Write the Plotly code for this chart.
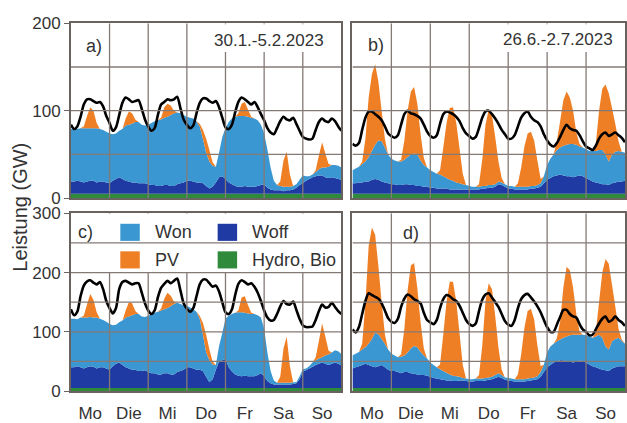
import plotly.graph_objects as go

DAY_LABELS = ["Mo", "Die", "Mi", "Do", "Fr", "Sa", "So"]
HOURS = list(range(0, 169, 2))  # 2-hour steps over one week
Y_TICKS_TOP = [0, 100, 200]
Y_TICKS_BOTTOM = [0, 100, 200, 300]

# ---------------- Panel a: 30.1.-5.2.2023 ----------------
HYDRO_A = [5, 5, 5, 5, 5, 5, 5, 5, 5, 5, 5, 5,
           5, 5, 5, 5, 5, 5, 5, 5, 5, 5, 5, 5,
           5, 5, 5, 5, 5, 5, 5, 5, 5, 5, 5, 5,
           5, 5, 5, 5, 5, 5, 5, 5, 5, 5, 5, 5,
           5, 5, 5, 5, 5, 5, 5, 5, 5, 5, 5, 5,
           5, 5, 5, 5, 5, 5, 5, 5, 5, 5, 5, 5,
           5, 5, 5, 5, 5, 5, 5, 5, 5, 5, 5, 5, 5]
WOFF_A = [14, 14, 15, 14, 13, 14, 15, 15, 13, 14, 14, 13,
          12, 15, 17, 19, 17, 15, 14, 13, 13, 12, 12, 12,
          11, 10, 10, 9, 9, 10, 10, 9, 9, 11, 12, 13,
          15, 15, 14, 13, 13, 12, 9, 6, 8, 13, 19, 20,
          17, 13, 11, 9, 8, 8, 9, 8, 8, 8, 9, 10,
          11, 7, 5, 4, 4, 4, 3, 4, 4, 5, 7, 10,
          12, 15, 17, 19, 20, 21, 21, 19, 18, 19, 18, 17, 16]
WON_A = [60, 60, 59, 61, 62, 61, 60, 60, 62, 60, 59, 58,
         57, 53, 52, 53, 57, 63, 65, 67, 69, 70, 67, 66,
         68, 71, 73, 75, 76, 77, 78, 81, 83, 82, 80, 77,
         73, 72, 72, 70, 64, 51, 38, 31, 24, 18, 28, 45,
         58, 69, 75, 79, 81, 81, 80, 80, 79, 78, 75, 69,
         58, 44, 25, 11, 6, 5, 5, 4, 4, 4, 4, 6,
         9, 5, 3, 3, 5, 7, 9, 11, 13, 14, 15, 15, 14]
PV_A = [0, 0, 0, 0, 2, 14, 24, 20, 6, 0, 0, 0,
        0, 0, 0, 0, 0, 8, 15, 12, 3, 0, 0, 0,
        0, 0, 0, 0, 2, 12, 15, 11, 3, 0, 0, 0,
        0, 0, 0, 0, 3, 10, 16, 13, 4, 0, 0, 0,
        0, 0, 0, 0, 3, 14, 16, 8, 1, 0, 0, 0,
        0, 0, 0, 0, 0, 5, 30, 40, 14, 0, 0, 0,
        0, 0, 0, 0, 2, 16, 29, 16, 3, 0, 0, 0, 0]
LOAD_A = [84, 79, 82, 93, 107, 113, 113, 111, 109, 110, 105, 94,
          86, 77, 81, 95, 109, 115, 113, 110, 111, 112, 102, 90,
          82, 77, 80, 95, 107, 110, 113, 112, 113, 116, 103, 90,
          84, 80, 83, 97, 109, 114, 114, 111, 109, 111, 104, 92,
          81, 79, 84, 98, 110, 115, 113, 110, 107, 110, 104, 96,
          89, 80, 75, 73, 80, 88, 93, 90, 89, 92, 85, 77,
          70, 68, 67, 68, 78, 87, 91, 88, 87, 91, 88, 82, 77]

# ---------------- Panel b: 26.6.-2.7.2023 ----------------
HYDRO_B = [5, 5, 5, 5, 5, 5, 5, 5, 5, 5, 5, 5,
           5, 5, 5, 5, 5, 5, 5, 5, 5, 5, 5, 5,
           5, 5, 5, 5, 5, 5, 5, 5, 5, 5, 5, 5,
           5, 5, 5, 5, 5, 5, 5, 5, 5, 5, 5, 5,
           5, 5, 5, 5, 5, 5, 5, 5, 5, 5, 5, 5,
           5, 5, 5, 5, 5, 5, 5, 5, 5, 5, 5, 5,
           5, 5, 5, 5, 5, 5, 5, 5, 5, 5, 5, 5, 5]
WOFF_B = [12, 12, 13, 13, 14, 14, 16, 17, 16, 14, 13, 12,
          11, 11, 10, 10, 11, 11, 10, 10, 9, 9, 8, 8,
          7, 7, 6, 6, 6, 6, 5, 5, 5, 5, 5, 5,
          5, 5, 5, 5, 6, 6, 7, 7, 8, 11, 10, 8,
          6, 6, 5, 5, 5, 5, 5, 6, 6, 7, 8, 12,
          16, 18, 20, 21, 22, 21, 20, 20, 19, 20, 21, 20,
          18, 16, 14, 13, 12, 11, 11, 10, 12, 13, 14, 14, 15]
WON_B = [15, 17, 18, 21, 23, 28, 33, 39, 45, 46, 40, 33,
         29, 27, 27, 27, 28, 31, 35, 36, 36, 29, 25, 22,
         20, 18, 17, 16, 14, 12, 11, 10, 8, 7, 6, 5,
         4, 3, 3, 3, 3, 3, 3, 3, 3, 3, 3, 3,
         3, 3, 3, 3, 3, 3, 3, 3, 3, 3, 4, 8,
         17, 22, 25, 29, 31, 34, 36, 37, 38, 36, 33, 33,
         33, 33, 35, 36, 38, 39, 34, 27, 33, 35, 35, 34, 32]
PV_B = [0, 0, 0, 3, 26, 68, 88, 92, 67, 35, 10, 0,
        0, 0, 0, 2, 22, 53, 72, 76, 58, 30, 8, 0,
        0, 0, 0, 5, 33, 63, 82, 84, 68, 40, 12, 0,
        0, 0, 0, 3, 30, 70, 86, 80, 54, 23, 5, 0,
        0, 0, 0, 4, 22, 46, 61, 62, 52, 28, 5, 0,
        0, 0, 0, 10, 30, 52, 61, 53, 38, 14, 3, 0,
        0, 0, 0, 8, 45, 70, 80, 78, 53, 32, 11, 0, 0]
LOAD_B = [62, 60, 63, 78, 92, 99, 99, 96, 93, 89, 82, 74,
          71, 69, 72, 84, 96, 100, 97, 96, 94, 91, 84, 76,
          71, 69, 72, 85, 96, 99, 98, 96, 93, 88, 80, 74,
          71, 68, 70, 80, 92, 99, 100, 96, 91, 85, 78, 73,
          68, 68, 72, 82, 92, 97, 99, 93, 89, 87, 82, 73,
          66, 61, 59, 63, 70, 78, 84, 80, 78, 77, 72, 65,
          59, 57, 55, 60, 68, 73, 75, 71, 73, 75, 72, 69, 64]

# ---------------- Panel c: winter week, scenario ----------------
HYDRO_C = [5, 5, 5, 5, 5, 5, 5, 5, 5, 5, 5, 5,
           5, 5, 5, 5, 5, 5, 5, 5, 5, 5, 5, 5,
           5, 5, 5, 5, 5, 5, 5, 5, 5, 5, 5, 5,
           5, 5, 5, 5, 5, 5, 5, 5, 5, 5, 5, 5,
           5, 5, 5, 5, 5, 5, 5, 5, 5, 5, 5, 5,
           5, 5, 5, 5, 5, 5, 5, 5, 5, 5, 5, 5,
           5, 5, 5, 5, 5, 5, 5, 5, 5, 5, 5, 5, 5]
WOFF_C = [35, 35, 37, 35, 33, 35, 37, 36, 33, 35, 35, 33,
          31, 37, 41, 43, 39, 35, 33, 31, 31, 29, 29, 30,
          27, 25, 25, 23, 23, 25, 25, 23, 23, 27, 29, 31,
          35, 35, 33, 31, 31, 29, 19, 10, 15, 31, 45, 47,
          49, 35, 28, 23, 21, 20, 21, 20, 20, 20, 22, 25,
          20, 12, 8, 6, 6, 6, 5, 6, 6, 7, 8, 15,
          28, 30, 33, 36, 39, 41, 43, 41, 39, 41, 43, 41, 38]
WON_C = [82, 82, 79, 84, 86, 84, 83, 83, 86, 82, 80, 79,
         77, 69, 66, 68, 75, 84, 88, 92, 94, 96, 92, 90,
         95, 100, 102, 106, 108, 108, 110, 115, 119, 117, 113, 109,
         104, 101, 100, 98, 86, 61, 41, 37, 25, 8, 26, 46,
         68, 87, 97, 104, 107, 108, 106, 106, 105, 105, 101, 94,
         80, 48, 21, 7, 3, 3, 4, 3, 3, 3, 2, 5,
         4, 3, 4, 7, 8, 9, 9, 14, 18, 19, 21, 21, 19]
PV_C = [0, 0, 0, 0, 3, 22, 39, 30, 9, 0, 0, 0,
        0, 0, 0, 0, 0, 12, 24, 20, 5, 0, 0, 0,
        0, 0, 0, 0, 3, 18, 26, 18, 4, 0, 0, 0,
        0, 0, 0, 0, 5, 20, 30, 18, 5, 0, 0, 0,
        0, 0, 0, 0, 3, 25, 28, 14, 2, 0, 0, 0,
        0, 0, 0, 0, 0, 10, 58, 78, 28, 0, 0, 0,
        0, 0, 0, 0, 5, 30, 57, 32, 6, 0, 0, 0, 0]
LOAD_C = [138, 128, 134, 160, 178, 185, 187, 183, 180, 184, 172, 152,
          140, 131, 140, 172, 184, 186, 183, 180, 182, 182, 166, 148,
          136, 130, 136, 158, 174, 181, 186, 182, 186, 190, 170, 148,
          139, 134, 140, 160, 180, 188, 188, 182, 176, 178, 168, 150,
          133, 130, 138, 162, 181, 187, 184, 180, 182, 176, 166, 152,
          136, 124, 119, 120, 130, 143, 152, 147, 146, 151, 137, 122,
          111, 108, 108, 109, 120, 135, 146, 141, 142, 149, 142, 135, 130]

# ---------------- Panel d: summer week, scenario ----------------
HYDRO_D = [5, 5, 5, 5, 5, 5, 5, 5, 5, 5, 5, 5,
           5, 5, 5, 5, 5, 5, 5, 5, 5, 5, 5, 5,
           5, 5, 5, 5, 5, 5, 5, 5, 5, 5, 5, 5,
           5, 5, 5, 5, 5, 5, 5, 5, 5, 5, 5, 5,
           5, 5, 5, 5, 5, 5, 5, 5, 5, 5, 5, 5,
           5, 5, 5, 5, 5, 5, 5, 5, 5, 5, 5, 5,
           5, 5, 5, 5, 5, 5, 5, 5, 5, 5, 5, 5, 5]
WOFF_D = [33, 35, 37, 39, 41, 39, 37, 35, 37, 39, 35, 31,
          29, 29, 27, 25, 27, 27, 25, 24, 23, 22, 22, 21,
          19, 17, 16, 15, 14, 13, 13, 12, 12, 13, 13, 12,
          11, 11, 12, 12, 12, 13, 14, 15, 17, 19, 17, 14,
          13, 12, 11, 11, 11, 11, 12, 13, 14, 15, 19, 27,
          35, 39, 43, 45, 47, 47, 45, 45, 43, 45, 47, 45,
          43, 40, 37, 35, 33, 31, 30, 29, 33, 35, 37, 37, 37]
WON_D = [22, 23, 24, 26, 28, 36, 46, 59, 54, 44, 40, 34,
         29, 26, 25, 28, 28, 33, 42, 47, 46, 39, 33, 29,
         24, 22, 19, 17, 15, 13, 10, 9, 8, 6, 4, 4,
         4, 4, 4, 4, 4, 4, 4, 4, 5, 6, 5, 4,
         4, 4, 4, 4, 4, 4, 4, 4, 4, 5, 8, 13,
         25, 31, 32, 34, 35, 38, 42, 44, 47, 45, 43, 45,
         46, 47, 48, 52, 57, 54, 40, 36, 46, 48, 48, 43, 38]
PV_D = [0, 0, 0, 10, 75, 165, 188, 165, 115, 62, 16, 0,
        0, 0, 0, 4, 45, 105, 140, 140, 100, 50, 12, 0,
        0, 0, 0, 8, 62, 120, 157, 158, 126, 74, 22, 0,
        0, 0, 0, 6, 55, 130, 159, 148, 100, 43, 9, 0,
        0, 0, 0, 8, 42, 87, 114, 117, 98, 52, 10, 0,
        0, 0, 0, 5, 30, 85, 118, 110, 80, 35, 5, 0,
        0, 0, 0, 8, 55, 110, 148, 145, 95, 55, 15, 2, 0]
LOAD_D = [104, 99, 108, 130, 152, 165, 162, 159, 156, 148, 136, 123,
          117, 115, 122, 142, 156, 163, 160, 155, 152, 148, 132, 120,
          116, 113, 120, 140, 155, 162, 160, 155, 152, 144, 132, 120,
          113, 110, 114, 135, 154, 163, 165, 158, 150, 142, 130, 118,
          112, 110, 120, 140, 155, 162, 164, 158, 151, 143, 133, 120,
          108, 100, 100, 112, 125, 137, 137, 130, 126, 124, 113, 104,
          100, 94, 95, 104, 114, 122, 126, 117, 120, 126, 120, 116, 110]

SERIES_NAMES = ["Hydro, Bio", "Woff", "Won", "PV"]
COLORS = {"Hydro, Bio": "#2f8b3b", "Woff": "#1f3aa2", "Won": "#3a97d2", "PV": "#ef7f25"}
GRID_COLOR = "#847a75"
FRAME_COLOR = "#6a625e"
TEXT_COLOR = "#333333"
FONT = "Liberation Sans, Arial, sans-serif"

W, H = 627, 423


def px_x(p):
    return p / W


def px_y(p):
    return 1 - p / H


panels = [
    ("x", "y", HYDRO_A, WOFF_A, WON_A, PV_A, LOAD_A, 200),
    ("x2", "y2", HYDRO_B, WOFF_B, WON_B, PV_B, LOAD_B, 200),
    ("x3", "y3", HYDRO_C, WOFF_C, WON_C, PV_C, LOAD_C, 300),
    ("x4", "y4", HYDRO_D, WOFF_D, WON_D, PV_D, LOAD_D, 300),
]

fig = go.Figure()
shapes = []
for i, (xa, ya, hy, wf, wn, pv, ld, ymax) in enumerate(panels):
    for name, vals in zip(SERIES_NAMES, [hy, wf, wn, pv]):
        fig.add_trace(go.Scatter(
            x=HOURS, y=vals, xaxis=xa, yaxis=ya, stackgroup=f"s{i}",
            mode="none", fillcolor=COLORS[name], line=dict(width=0),
            name=name, showlegend=False, hoverinfo="skip"))
    fig.add_trace(go.Scatter(
        x=HOURS, y=ld, xaxis=xa, yaxis=ya, mode="lines",
        line=dict(color="black", width=2.6, shape="spline", smoothing=0.7),
        showlegend=False, hoverinfo="skip"))
    # vertical day gridlines
    for d in range(1, 7):
        shapes.append(dict(type="line", xref=xa, yref=ya, x0=24 * d, x1=24 * d,
                           y0=0, y1=ymax, layer="above",
                           line=dict(color=GRID_COLOR, width=1.3)))

# white boxes behind text (hide vertical gridlines)
shapes.append(dict(type="rect", xref="x", yref="y", x0=86, x1=165, y0=167, y1=199,
                   fillcolor="white", line=dict(width=0), layer="above"))
shapes.append(dict(type="rect", xref="x2", yref="y2", x0=87, x1=166, y0=167, y1=199,
                   fillcolor="white", line=dict(width=0), layer="above"))
shapes.append(dict(type="rect", xref="x3", yref="y3", x0=21, x1=167.5, y0=200, y1=299,
                   fillcolor="white", line=dict(width=0), layer="above"))

# horizontal gridlines
for i, (xa, ya, *_rest, ymax) in enumerate(panels):
    for v in range(50, ymax, 50):
        shapes.append(dict(type="line", xref=xa, yref=ya, x0=0, x1=168, y0=v, y1=v,
                           layer="above", line=dict(color=GRID_COLOR, width=1.3)))

# legend squares in panel c
legend_items = [("Won", 120.5, 226), ("Woff", 218, 226),
                ("PV", 120.5, 255), ("Hydro, Bio", 218, 255)]
annotations = []
for name, lx, ly in legend_items:
    shapes.append(dict(type="rect", xref="paper", yref="paper",
                       x0=px_x(lx), x1=px_x(lx + 19.5), y0=px_y(ly + 18), y1=px_y(ly),
                       fillcolor=COLORS[name], line=dict(width=0), layer="above"))
    annotations.append(dict(text=name, xref="paper", yref="paper", x=px_x(lx + 32.5),
                            y=px_y(ly + 9), xanchor="left", yanchor="middle",
                            showarrow=False, font=dict(size=18, color=TEXT_COLOR, family=FONT)))

annotations += [
    dict(text="Leistung (GW)", xref="paper", yref="paper", x=px_x(20), y=px_y(208),
         textangle=-90, showarrow=False, xanchor="center", yanchor="middle",
         font=dict(size=20, color=TEXT_COLOR, family=FONT)),
    dict(text="a)", xref="paper", yref="paper", x=px_x(84), y=px_y(39), xanchor="left",
         yanchor="middle", showarrow=False, font=dict(size=18, color=TEXT_COLOR, family=FONT)),
    dict(text="30.1.-5.2.2023", xref="paper", yref="paper", x=px_x(327), y=px_y(33),
         xanchor="right", yanchor="middle", showarrow=False,
         font=dict(size=17, color=TEXT_COLOR, family=FONT)),
    dict(text="b)", xref="paper", yref="paper", x=px_x(367), y=px_y(38), xanchor="left",
         yanchor="middle", showarrow=False, font=dict(size=18, color=TEXT_COLOR, family=FONT)),
    dict(text="26.6.-2.7.2023", xref="paper", yref="paper", x=px_x(616), y=px_y(32),
         xanchor="right", yanchor="middle", showarrow=False,
         font=dict(size=17, color=TEXT_COLOR, family=FONT)),
    dict(text="c)", xref="paper", yref="paper", x=px_x(76), y=px_y(235), xanchor="left",
         yanchor="middle", showarrow=False, font=dict(size=18, color=TEXT_COLOR, family=FONT)),
    dict(text="d)", xref="paper", yref="paper", x=px_x(402), y=px_y(236), xanchor="left",
         yanchor="middle", showarrow=False, font=dict(size=18, color=TEXT_COLOR, family=FONT)),
]

left_dom = [px_x(71), px_x(342)]
right_dom = [px_x(353), px_x(626)]
top_dom = [px_y(199), px_y(15)]
bot_dom = [px_y(402), px_y(215)]

tickfont = dict(size=17, color=TEXT_COLOR, family=FONT)
day_centers = [12 + 24 * d for d in range(7)]


def xax(dom, anchor, labels):
    return dict(domain=dom, anchor=anchor, range=[0, 168], showgrid=False, zeroline=False,
                showline=True, mirror=True, linecolor=FRAME_COLOR, linewidth=1.5,
                ticks="", tickvals=day_centers if labels else [],
                ticktext=DAY_LABELS if labels else [], showticklabels=labels,
                tickfont=tickfont, ticklabelstandoff=6, layer="above traces")


def yax(dom, anchor, ymax, ticks, labels):
    return dict(domain=dom, anchor=anchor, range=[0, ymax], showgrid=False, zeroline=False,
                showline=True, mirror=True, linecolor=FRAME_COLOR, linewidth=1.5,
                tickvals=ticks, ticks="outside" if labels else "", ticklen=5,
                tickcolor=FRAME_COLOR, showticklabels=labels, tickfont=tickfont,
                layer="above traces")


fig.update_layout(
    width=W, height=H, autosize=False, margin=dict(l=0, r=0, t=0, b=0, pad=0),
    paper_bgcolor="white", plot_bgcolor="white", showlegend=False,
    xaxis=xax(left_dom, "y", False),
    xaxis2=xax(right_dom, "y2", False),
    xaxis3=xax(left_dom, "y3", True),
    xaxis4=xax(right_dom, "y4", True),
    yaxis=yax(top_dom, "x", 200, Y_TICKS_TOP, True),
    yaxis2=yax(top_dom, "x2", 200, Y_TICKS_TOP, False),
    yaxis3=yax(bot_dom, "x3", 300, Y_TICKS_BOTTOM, True),
    yaxis4=yax(bot_dom, "x4", 300, Y_TICKS_BOTTOM, False),
    shapes=shapes, annotations=annotations,
)

fig.write_html("out.html", config={"displayModeBar": False, "responsive": False},
               post_script="document.body.style.margin='0';document.body.style.overflow='hidden';")
